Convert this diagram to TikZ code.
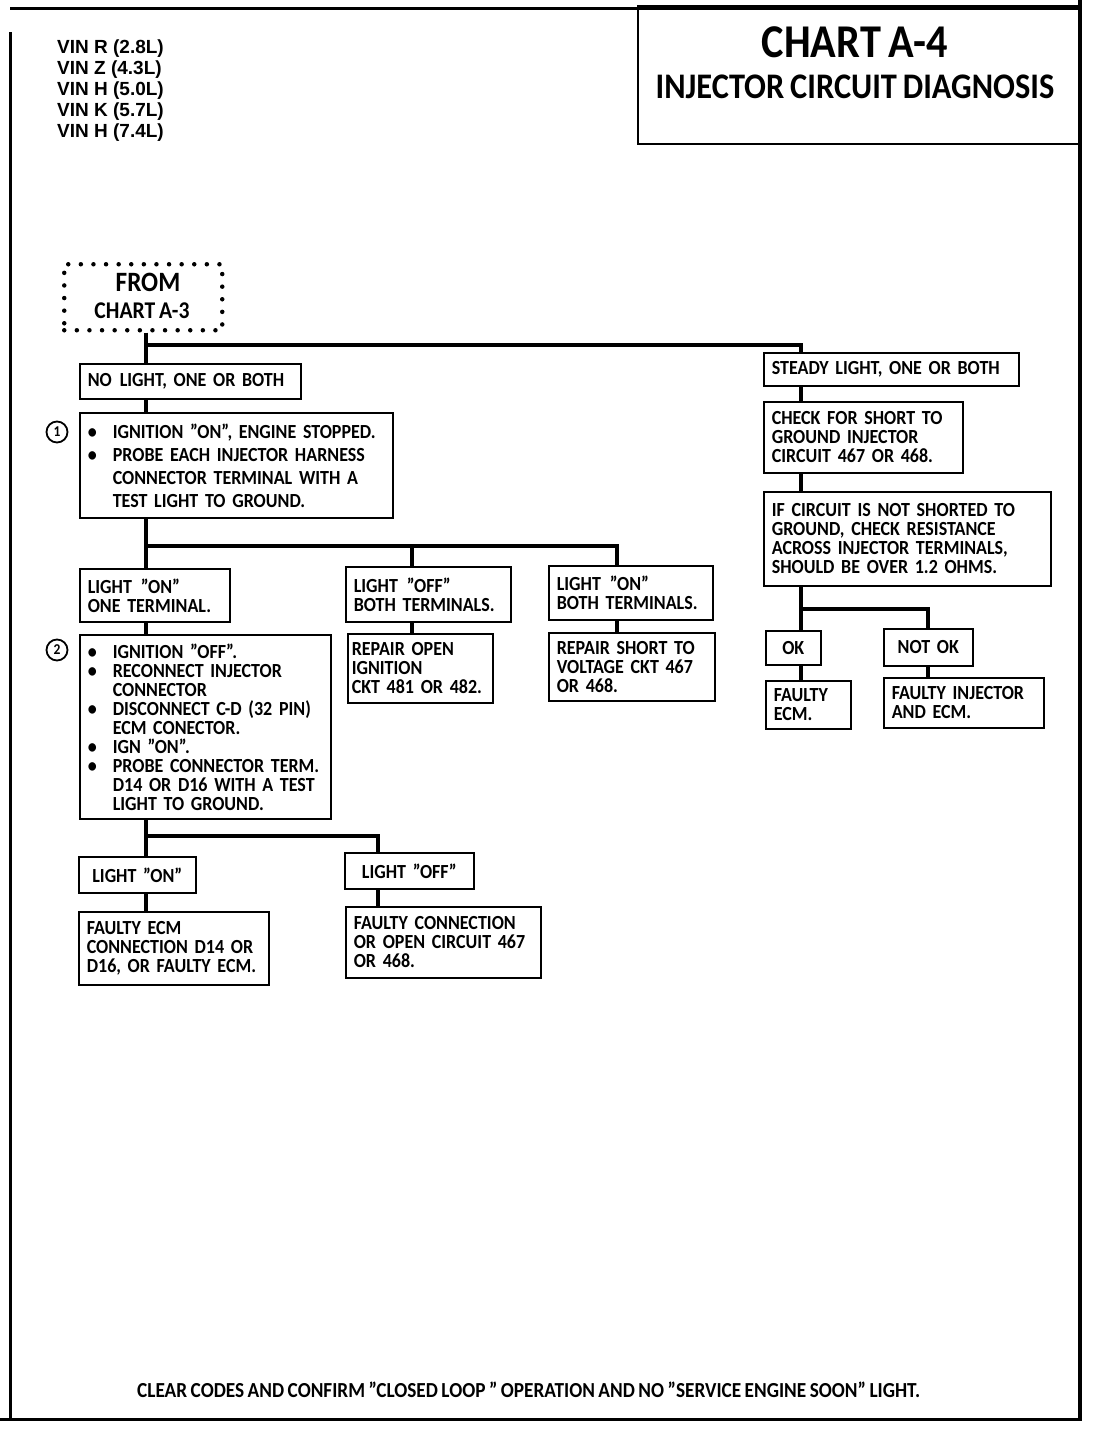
\documentclass[tikz,border=0pt]{standalone}
\usepackage{fontspec}
\newfontfamily\chartfont{Carlito}[FakeStretch=0.9, WordSpace=0.8]
\newfontfamily\vinfont{Liberation Sans}
\newcommand{\bul}{\makebox[25pt][l]{\textbullet}}
\newcommand{\skipbul}{\hspace*{25pt}}

\begin{document}
\begin{tikzpicture}[x=1pt, y=-1pt,
  box/.style={draw, line width=1.6pt, anchor=north west, inner xsep=8pt, inner ysep=2pt,
    align=left, font=\chartfont\bfseries\fontsize{20}{19}\selectfont},
  dotbox/.style={draw, dash pattern=on 0pt off 12.6pt, line cap=round, line width=4.5pt,
    anchor=north west, minimum width=158pt, minimum height=66pt, inner sep=0pt},
  link/.style={line width=4pt},
  frame/.style={line width=3pt},
  num/.style={circle, draw, line width=1.8pt, minimum size=21pt, inner sep=0pt,
    font=\chartfont\bfseries\fontsize{15}{15}\selectfont}]
\useasboundingbox (0,0) rectangle (1104,1433);

% page frame
\draw[frame] (10,8) -- (1080,8);
\draw[frame] (10,32) -- (10,1419);
\draw[frame] (0,1419) -- (1082,1419);
\draw[line width=4pt] (1080,0) -- (1080,1419);

% header
\node[anchor=north west, align=left, inner sep=0pt,
  font=\vinfont\bfseries\fontsize{19}{21}\selectfont] (vin) at (57,40)
  {VIN R (2.8L)\\ VIN Z (4.3L)\\ VIN H (5.0L)\\ VIN K (5.7L)\\ VIN H (7.4L)};
\node[draw, line width=1.6pt, anchor=north west, minimum width=441pt, minimum height=138pt] (title) at (637,5) {};
\node[anchor=base, font=\chartfont\bfseries\fontsize{47}{47}\selectfont] (chart) at (855,57) {CHART A-4};
\node[anchor=base, font=\chartfont\bfseries\fontsize{36}{36}\selectfont] (diag) at (855,98) {INJECTOR CIRCUIT DIAGNOSIS};

% start
\node[dotbox] (from) at (62,262) {};
\node[anchor=base, inner sep=0pt, font=\chartfont\bfseries\fontsize{28}{28}\selectfont] (fromtxt) at (148,291) {FROM};
\node[anchor=base, inner sep=0pt, font=\chartfont\bfseries\fontsize{24}{24}\selectfont] (fromchart) at (142,318) {CHART A-3};

% left branch
\node[box, text width=205pt, minimum height=35pt] (nolight) at (79,363) {NO\hspace{8pt}LIGHT, ONE OR BOTH};
\node[box, text width=297pt, minimum height=105pt, font=\chartfont\bfseries\fontsize{20}{23}\selectfont] (step1) at (79,412)
  {\bul IGNITION ”ON”, ENGINE STOPPED.\\ \bul PROBE EACH INJECTOR HARNESS\\ \skipbul CONNECTOR TERMINAL WITH A\\ \skipbul TEST LIGHT TO GROUND.};
\node[num] (n1) at (57,432) {1};
\node[box, text width=134pt, minimum height=53pt] (oneterm) at (79,568) {LIGHT\hspace{9pt}”ON”\\ ONE TERMINAL.};
\node[box, text width=149pt, minimum height=55pt] (offboth) at (345,566) {LIGHT\hspace{9pt}”OFF”\\ BOTH TERMINALS.};
\node[box, text width=148pt, minimum height=54pt] (onboth) at (548,565) {LIGHT\hspace{9pt}”ON”\\ BOTH TERMINALS.};
\node[box, text width=235pt, minimum height=184pt] (step2) at (79,634)
  {\bul IGNITION ”OFF”.\\ \bul RECONNECT INJECTOR\\ \skipbul CONNECTOR\\ \bul DISCONNECT C-D (32 PIN)\\ \skipbul ECM CONECTOR.\\
   \bul IGN ”ON”.\\ \bul PROBE CONNECTOR TERM.\\ \skipbul D14 OR D16 WITH A TEST\\ \skipbul LIGHT TO GROUND.};
\node[num] (n2) at (57,650) {2};
\node[box, text width=137pt, inner xsep=4pt, minimum height=69pt] (repopen) at (347,633) {REPAIR OPEN\\ IGNITION\\ CKT 481 OR 482.};
\node[box, text width=150pt, minimum height=68pt] (repshort) at (548,632) {REPAIR SHORT TO\\ VOLTAGE CKT 467\\ OR 468.};
\node[box, text width=101pt, minimum height=36pt, align=center] (lighton) at (78,856) {LIGHT ”ON”};
\node[box, text width=113pt, minimum height=36pt, align=center] (lightoff) at (344,852) {LIGHT ”OFF”};
\node[box, text width=174pt, minimum height=73pt] (faultyecm) at (78,911) {FAULTY ECM\\ CONNECTION D14 OR\\ D16, OR FAULTY ECM.};
\node[box, text width=179pt, minimum height=71pt] (faultycon) at (345,906) {FAULTY CONNECTION\\ OR OPEN CIRCUIT 467\\ OR 468.};

% right branch
\node[box, text width=239pt, minimum height=33pt] (steady) at (763,352) {STEADY LIGHT, ONE OR BOTH};
\node[box, text width=183pt, minimum height=71pt] (checkgnd) at (763,401) {CHECK FOR SHORT TO\\ GROUND INJECTOR\\ CIRCUIT 467 OR 468.};
\node[box, text width=271pt, minimum height=94pt] (resist) at (763,491)
  {IF CIRCUIT IS NOT SHORTED TO\\ GROUND, CHECK RESISTANCE\\ ACROSS INJECTOR TERMINALS,\\ SHOULD BE OVER 1.2 OHMS.};
\node[box, text width=39pt, minimum height=34pt, align=center] (ok) at (765,630) {OK};
\node[box, text width=73pt, minimum height=37pt, align=center] (notok) at (883,628) {NOT OK};
\node[box, text width=69pt, minimum height=48pt] (ecmbad) at (765,680) {FAULTY\\ ECM.};
\node[box, text width=144pt, minimum height=50pt] (injbad) at (883,677) {FAULTY INJECTOR\\ AND ECM.};

\node[anchor=base west, inner sep=0pt, font=\chartfont\bfseries\fontsize{21.4}{21.4}\selectfont] (clear) at (137,1397)
  {CLEAR CODES AND CONFIRM ”CLOSED LOOP ” OPERATION AND NO ”SERVICE ENGINE SOON” LIGHT.};

% connectors
\coordinate (colA) at (146,0);
\coordinate (colB) at (412,0);
\coordinate (colC) at (617,0);
\coordinate (colD) at (378,0);
\coordinate (colR) at (801,0);
\coordinate (colS) at (928,0);
\coordinate (fork1) at (146,345);
\coordinate (fork2) at (146,546);
\coordinate (fork3) at (146,836);
\coordinate (fork4) at (801,609);

\draw[link] (from.south -| colA) -- (nolight.north -| colA);
\draw[link] (fork1) -| (steady.north -| colR);
\draw[link] (nolight.south -| colA) -- (step1.north -| colA);
\draw[link] (step1.south -| colA) -- (oneterm.north -| colA);
\draw[link] (fork2) -| (offboth.north -| colB);
\draw[link] (fork2) -| (onboth.north -| colC);
\draw[link] (oneterm.south -| colA) -- (step2.north -| colA);
\draw[link] (offboth.south -| colB) -- (repopen.north -| colB);
\draw[link] (onboth.south -| colC) -- (repshort.north -| colC);
\draw[link] (step2.south -| colA) -- (lighton.north -| colA);
\draw[link] (fork3) -| (lightoff.north -| colD);
\draw[link] (lighton.south -| colA) -- (faultyecm.north -| colA);
\draw[link] (lightoff.south -| colD) -- (faultycon.north -| colD);
\draw[link] (steady.south -| colR) -- (checkgnd.north -| colR);
\draw[link] (checkgnd.south -| colR) -- (resist.north -| colR);
\draw[link] (resist.south -| colR) -- (ok.north -| colR);
\draw[link] (fork4) -| (notok.north -| colS);
\draw[link] (ok.south -| colR) -- (ecmbad.north -| colR);
\draw[link] (notok.south -| colS) -- (injbad.north -| colS);
\end{tikzpicture}
\end{document}
